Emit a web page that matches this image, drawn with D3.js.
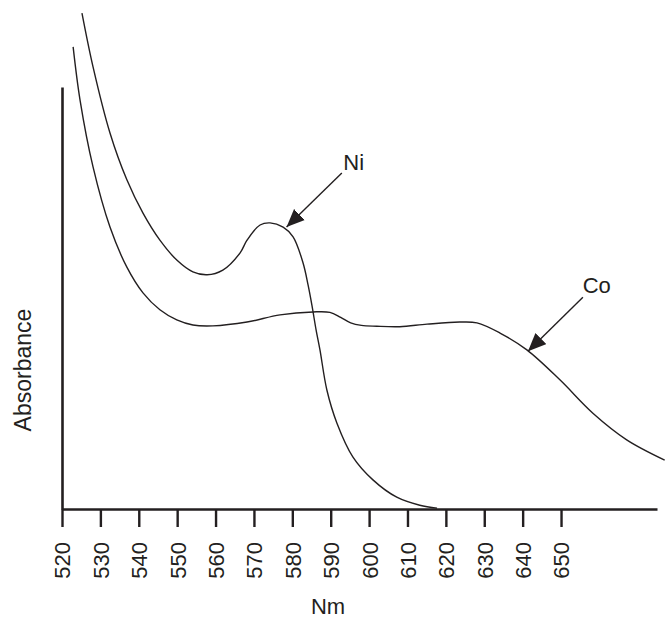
<!DOCTYPE html>
<html>
<head>
<meta charset="utf-8">
<script src="https://cdn.jsdelivr.net/npm/d3@7"></script>
<style>
  body { margin: 0; background: #fff; }
  svg text { font-family: "Liberation Sans", Arial, Helvetica, sans-serif; fill: #231f20; }
</style>
</head>
<body>
<div id="chart"></div>
<script>
// wavelength ticks (nm)
var tickValues = [520, 530, 540, 550, 560, 570, 580, 590, 600, 610, 620, 630, 640, 650];

// Ni spectrum (nm, absorbance in arbitrary units, axis top = 100)
var niNm = [525.2, 528.1, 532.5, 536.9, 541.1, 545.5, 549.9, 554.1, 557.8, 561.9, 566.4, 568.2, 571.6, 574.2, 577.6, 580.2, 582.8, 584.1, 585.1, 586.2, 587.2, 589.0, 591.6, 595.8, 601.0, 607.2, 613.2, 617.7];
var niAbs = [117.5, 104.7, 89.1, 78.0, 70.1, 63.7, 59.0, 56.2, 55.5, 56.6, 60.7, 63.7, 67.3, 67.8, 66.8, 64.5, 58.3, 53.1, 48.3, 42.4, 37.7, 28.2, 20.4, 12.3, 6.9, 2.8, 0.9, 0.2];

// Co spectrum
var coNm = [522.9, 524.7, 528.1, 532.5, 536.9, 541.1, 545.5, 549.9, 554.1, 559.3, 568.2, 576.8, 585.4, 589.8, 592.6, 595.2, 598.0, 602.0, 608.0, 615.1, 623.6, 628.1, 634.1, 641.1, 649.7, 658.3, 667.1, 677.0];
var coAbs = [109.5, 96.9, 81.0, 66.8, 57.3, 51.2, 47.2, 44.8, 43.6, 43.4, 44.3, 46.0, 46.7, 46.6, 45.4, 44.1, 43.5, 43.3, 43.2, 43.8, 44.3, 44.1, 41.7, 37.7, 30.6, 22.7, 16.4, 11.6];

// labels with arrows
var labelNames = ["Ni", "Co"];
var labelPos = [[596.0, 80.3], [659.3, 51.2]];
var arrowFrom = [[592.9, 79.6], [655.7, 50.2]];
var arrowTo = [[578.5, 66.8], [641.4, 37.4]];

var width = 665, height = 620;
var ink = "#231f20";

var svg = d3.select("#chart").append("svg")
    .attr("width", width)
    .attr("height", height);

var x = d3.scaleLinear().domain([520, 675]).range([62, 657]);
var y = d3.scaleLinear().domain([0, 100]).range([509, 87]);

// arrowhead
svg.append("defs").append("marker")
    .attr("id", "head")
    .attr("markerUnits", "userSpaceOnUse")
    .attr("viewBox", "0 -8 18 16")
    .attr("refX", 18).attr("refY", 0)
    .attr("markerWidth", 18).attr("markerHeight", 16)
    .attr("orient", "auto")
  .append("path")
    .attr("d", "M0,-7.7L18,0L0,7.7Z")
    .attr("fill", ink);

// x axis
var xAxis = svg.append("g")
    .attr("transform", "translate(0," + y(0) + ")")
    .call(d3.axisBottom(x).tickValues(tickValues).tickSize(18).tickSizeOuter(0));
xAxis.select(".domain").attr("stroke", ink).attr("stroke-width", 2.6);
xAxis.selectAll(".tick line").attr("stroke", ink).attr("stroke-width", 2.4);
xAxis.selectAll(".tick text")
    .attr("x", 0).attr("y", 0).attr("dy", "0.36em")
    .attr("transform", "translate(0,33) rotate(-90)")
    .attr("text-anchor", "end")
    .attr("font-size", 22)
    .attr("fill", ink);

// y axis (no ticks)
var yAxis = svg.append("g")
    .attr("transform", "translate(" + x(520) + ",0)")
    .call(d3.axisLeft(y).tickValues([]).tickSizeOuter(0));
yAxis.select(".domain").attr("stroke", ink).attr("stroke-width", 2.6);

// curves
var line = d3.line()
    .x(function(d) { return x(d[0]); })
    .y(function(d) { return y(d[1]); })
    .curve(d3.curveCatmullRom.alpha(0.5));

var series = [d3.zip(niNm, niAbs), d3.zip(coNm, coAbs)];
svg.selectAll(".spectrum")
    .data(series)
    .enter().append("path")
    .attr("class", "spectrum")
    .attr("d", line)
    .attr("fill", "none")
    .attr("stroke", ink)
    .attr("stroke-width", 1.4);

// arrows
svg.selectAll(".arrow")
    .data(d3.range(labelNames.length))
    .enter().append("line")
    .attr("class", "arrow")
    .attr("x1", function(i) { return x(arrowFrom[i][0]); })
    .attr("y1", function(i) { return y(arrowFrom[i][1]); })
    .attr("x2", function(i) { return x(arrowTo[i][0]); })
    .attr("y2", function(i) { return y(arrowTo[i][1]); })
    .attr("stroke", ink)
    .attr("stroke-width", 1.4)
    .attr("marker-end", "url(#head)");

svg.selectAll(".label")
    .data(d3.range(labelNames.length))
    .enter().append("text")
    .attr("class", "label")
    .attr("x", function(i) { return x(labelPos[i][0]); })
    .attr("y", function(i) { return y(labelPos[i][1]); })
    .attr("text-anchor", "middle")
    .attr("font-size", 22)
    .text(function(i) { return labelNames[i]; });

// axis titles
svg.append("text")
    .attr("transform", "translate(31,370) rotate(-90)")
    .attr("text-anchor", "middle")
    .attr("font-size", 23)
    .text("Absorbance");

svg.append("text")
    .attr("x", 328).attr("y", 614)
    .attr("text-anchor", "middle")
    .attr("font-size", 22)
    .text("Nm");
</script>
</body>
</html>
